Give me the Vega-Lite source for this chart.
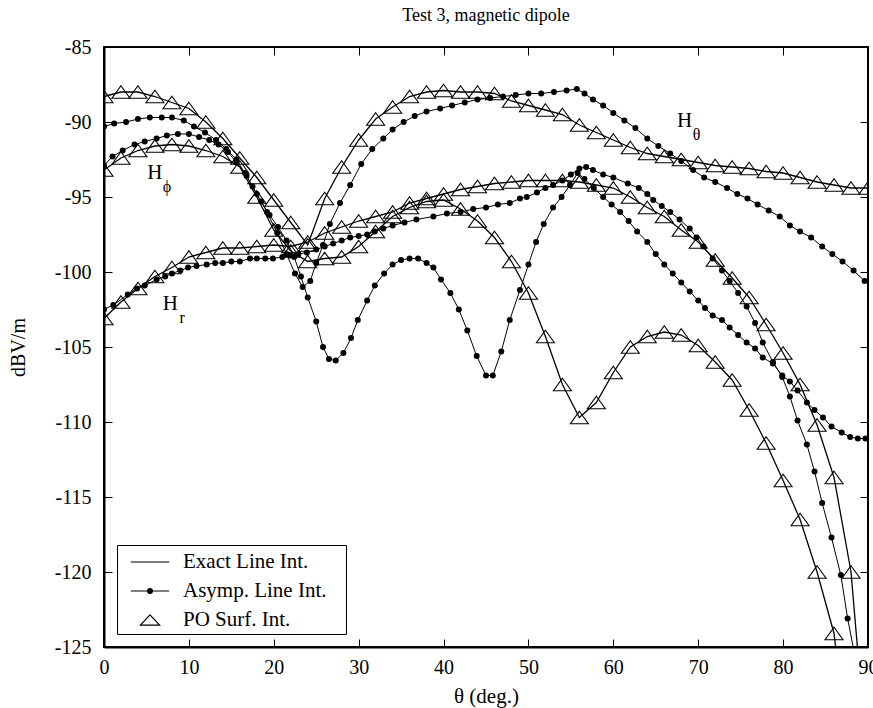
{
"$schema": "https://vega.github.io/schema/vega-lite/v6.json",
"width": 764, "height": 600,
"autosize": {"type": "none"},
"padding": {"left": 104, "top": 47, "right": 5, "bottom": 61},
"background": "white",
"title": {"text": "Test 3, magnetic dipole", "font": "Liberation Serif", "fontSize": 18, "fontWeight": "normal", "color": "black", "offset": 12},
"config": {
 "view": {"stroke": "black", "strokeWidth": 2},
 "axis": {"grid": false, "labelFont": "Liberation Serif", "labelFontSize": 20, "labelColor": "black", "titleFont": "Liberation Serif", "titleFontWeight": "normal", "titleColor": "black", "titleFontSize": 20, "domainColor": "black", "domainWidth": 2, "tickColor": "black", "tickWidth": 1, "tickSize": -8},
 "legend": {"labelFont": "Liberation Serif", "labelFontSize": 21, "labelColor": "black"}
},
"datasets": {
"curves": [
{"f":"Ht","m":"PO Surf. Int.","t":0,"v":-88.3},{"f":"Ht","m":"PO Surf. Int.","t":2,"v":-88.0},{"f":"Ht","m":"PO Surf. Int.","t":4,"v":-88.0},{"f":"Ht","m":"PO Surf. Int.","t":6,"v":-88.3},{"f":"Ht","m":"PO Surf. Int.","t":8,"v":-88.7},{"f":"Ht","m":"PO Surf. Int.","t":10,"v":-89.1},{"f":"Ht","m":"PO Surf. Int.","t":12,"v":-90.0},{"f":"Ht","m":"PO Surf. Int.","t":14,"v":-91.1},{"f":"Ht","m":"PO Surf. Int.","t":16,"v":-92.4},{"f":"Ht","m":"PO Surf. Int.","t":18,"v":-93.7},{"f":"Ht","m":"PO Surf. Int.","t":20,"v":-95.2},{"f":"Ht","m":"PO Surf. Int.","t":22,"v":-96.7},{"f":"Ht","m":"PO Surf. Int.","t":24,"v":-98.2},{"f":"Ht","m":"PO Surf. Int.","t":26,"v":-95.1},{"f":"Ht","m":"PO Surf. Int.","t":28,"v":-93.0},{"f":"Ht","m":"PO Surf. Int.","t":30,"v":-91.2},{"f":"Ht","m":"PO Surf. Int.","t":32,"v":-89.8},{"f":"Ht","m":"PO Surf. Int.","t":34,"v":-89.0},{"f":"Ht","m":"PO Surf. Int.","t":36,"v":-88.3},{"f":"Ht","m":"PO Surf. Int.","t":38,"v":-88.0},{"f":"Ht","m":"PO Surf. Int.","t":40,"v":-87.9},{"f":"Ht","m":"PO Surf. Int.","t":42,"v":-88.0},{"f":"Ht","m":"PO Surf. Int.","t":44,"v":-88.0},{"f":"Ht","m":"PO Surf. Int.","t":46,"v":-88.1},{"f":"Ht","m":"PO Surf. Int.","t":48,"v":-88.6},{"f":"Ht","m":"PO Surf. Int.","t":50,"v":-88.9},{"f":"Ht","m":"PO Surf. Int.","t":52,"v":-89.2},{"f":"Ht","m":"PO Surf. Int.","t":54,"v":-89.5},{"f":"Ht","m":"PO Surf. Int.","t":56,"v":-90.2},{"f":"Ht","m":"PO Surf. Int.","t":58,"v":-90.7},{"f":"Ht","m":"PO Surf. Int.","t":60,"v":-91.2},{"f":"Ht","m":"PO Surf. Int.","t":62,"v":-91.7},{"f":"Ht","m":"PO Surf. Int.","t":64,"v":-92.1},{"f":"Ht","m":"PO Surf. Int.","t":66,"v":-92.3},{"f":"Ht","m":"PO Surf. Int.","t":68,"v":-92.5},{"f":"Ht","m":"PO Surf. Int.","t":70,"v":-92.7},{"f":"Ht","m":"PO Surf. Int.","t":72,"v":-92.9},{"f":"Ht","m":"PO Surf. Int.","t":74,"v":-93.0},{"f":"Ht","m":"PO Surf. Int.","t":76,"v":-93.1},{"f":"Ht","m":"PO Surf. Int.","t":78,"v":-93.3},{"f":"Ht","m":"PO Surf. Int.","t":80,"v":-93.4},{"f":"Ht","m":"PO Surf. Int.","t":82,"v":-93.7},{"f":"Ht","m":"PO Surf. Int.","t":84,"v":-94.0},{"f":"Ht","m":"PO Surf. Int.","t":86,"v":-94.2},{"f":"Ht","m":"PO Surf. Int.","t":88,"v":-94.4},{"f":"Ht","m":"PO Surf. Int.","t":90,"v":-94.4},
{"f":"Hp","m":"PO Surf. Int.","t":0,"v":-93.2},{"f":"Hp","m":"PO Surf. Int.","t":2,"v":-92.4},{"f":"Hp","m":"PO Surf. Int.","t":4,"v":-91.9},{"f":"Hp","m":"PO Surf. Int.","t":6,"v":-91.6},{"f":"Hp","m":"PO Surf. Int.","t":8,"v":-91.5},{"f":"Hp","m":"PO Surf. Int.","t":10,"v":-91.6},{"f":"Hp","m":"PO Surf. Int.","t":12,"v":-91.9},{"f":"Hp","m":"PO Surf. Int.","t":14,"v":-92.3},{"f":"Hp","m":"PO Surf. Int.","t":16,"v":-93.0},{"f":"Hp","m":"PO Surf. Int.","t":18,"v":-95.0},{"f":"Hp","m":"PO Surf. Int.","t":20,"v":-97.2},{"f":"Hp","m":"PO Surf. Int.","t":22,"v":-98.6},{"f":"Hp","m":"PO Surf. Int.","t":24,"v":-99.3},{"f":"Hp","m":"PO Surf. Int.","t":26,"v":-99.1},{"f":"Hp","m":"PO Surf. Int.","t":28,"v":-99.0},{"f":"Hp","m":"PO Surf. Int.","t":30,"v":-98.3},{"f":"Hp","m":"PO Surf. Int.","t":32,"v":-97.3},{"f":"Hp","m":"PO Surf. Int.","t":34,"v":-96.3},{"f":"Hp","m":"PO Surf. Int.","t":36,"v":-95.7},{"f":"Hp","m":"PO Surf. Int.","t":38,"v":-95.3},{"f":"Hp","m":"PO Surf. Int.","t":40,"v":-95.2},{"f":"Hp","m":"PO Surf. Int.","t":42,"v":-95.8},{"f":"Hp","m":"PO Surf. Int.","t":44,"v":-96.6},{"f":"Hp","m":"PO Surf. Int.","t":46,"v":-97.7},{"f":"Hp","m":"PO Surf. Int.","t":48,"v":-99.3},{"f":"Hp","m":"PO Surf. Int.","t":50,"v":-101.4},{"f":"Hp","m":"PO Surf. Int.","t":52,"v":-104.3},{"f":"Hp","m":"PO Surf. Int.","t":54,"v":-107.5},{"f":"Hp","m":"PO Surf. Int.","t":56,"v":-109.7},{"f":"Hp","m":"PO Surf. Int.","t":58,"v":-108.7},{"f":"Hp","m":"PO Surf. Int.","t":60,"v":-106.7},{"f":"Hp","m":"PO Surf. Int.","t":62,"v":-105.0},{"f":"Hp","m":"PO Surf. Int.","t":64,"v":-104.3},{"f":"Hp","m":"PO Surf. Int.","t":66,"v":-104.0},{"f":"Hp","m":"PO Surf. Int.","t":68,"v":-104.2},{"f":"Hp","m":"PO Surf. Int.","t":70,"v":-104.9},{"f":"Hp","m":"PO Surf. Int.","t":72,"v":-106.0},{"f":"Hp","m":"PO Surf. Int.","t":74,"v":-107.2},{"f":"Hp","m":"PO Surf. Int.","t":76,"v":-109.2},{"f":"Hp","m":"PO Surf. Int.","t":78,"v":-111.4},{"f":"Hp","m":"PO Surf. Int.","t":80,"v":-113.9},{"f":"Hp","m":"PO Surf. Int.","t":82,"v":-116.5},{"f":"Hp","m":"PO Surf. Int.","t":84,"v":-120.0},{"f":"Hp","m":"PO Surf. Int.","t":86,"v":-124.1},
{"f":"Hr","m":"PO Surf. Int.","t":0,"v":-103.1},{"f":"Hr","m":"PO Surf. Int.","t":2,"v":-102.0},{"f":"Hr","m":"PO Surf. Int.","t":4,"v":-101.1},{"f":"Hr","m":"PO Surf. Int.","t":6,"v":-100.3},{"f":"Hr","m":"PO Surf. Int.","t":8,"v":-99.7},{"f":"Hr","m":"PO Surf. Int.","t":10,"v":-99.0},{"f":"Hr","m":"PO Surf. Int.","t":12,"v":-98.7},{"f":"Hr","m":"PO Surf. Int.","t":14,"v":-98.4},{"f":"Hr","m":"PO Surf. Int.","t":16,"v":-98.4},{"f":"Hr","m":"PO Surf. Int.","t":18,"v":-98.3},{"f":"Hr","m":"PO Surf. Int.","t":20,"v":-98.2},{"f":"Hr","m":"PO Surf. Int.","t":22,"v":-98.3},{"f":"Hr","m":"PO Surf. Int.","t":24,"v":-98.0},{"f":"Hr","m":"PO Surf. Int.","t":26,"v":-97.4},{"f":"Hr","m":"PO Surf. Int.","t":28,"v":-97.0},{"f":"Hr","m":"PO Surf. Int.","t":30,"v":-96.6},{"f":"Hr","m":"PO Surf. Int.","t":32,"v":-96.3},{"f":"Hr","m":"PO Surf. Int.","t":34,"v":-96.0},{"f":"Hr","m":"PO Surf. Int.","t":36,"v":-95.4},{"f":"Hr","m":"PO Surf. Int.","t":38,"v":-95.1},{"f":"Hr","m":"PO Surf. Int.","t":40,"v":-94.8},{"f":"Hr","m":"PO Surf. Int.","t":42,"v":-94.5},{"f":"Hr","m":"PO Surf. Int.","t":44,"v":-94.3},{"f":"Hr","m":"PO Surf. Int.","t":46,"v":-94.1},{"f":"Hr","m":"PO Surf. Int.","t":48,"v":-94.0},{"f":"Hr","m":"PO Surf. Int.","t":50,"v":-93.9},{"f":"Hr","m":"PO Surf. Int.","t":52,"v":-93.9},{"f":"Hr","m":"PO Surf. Int.","t":54,"v":-93.9},{"f":"Hr","m":"PO Surf. Int.","t":56,"v":-94.0},{"f":"Hr","m":"PO Surf. Int.","t":58,"v":-94.2},{"f":"Hr","m":"PO Surf. Int.","t":60,"v":-94.4},{"f":"Hr","m":"PO Surf. Int.","t":62,"v":-95.0},{"f":"Hr","m":"PO Surf. Int.","t":64,"v":-95.7},{"f":"Hr","m":"PO Surf. Int.","t":66,"v":-96.3},{"f":"Hr","m":"PO Surf. Int.","t":68,"v":-97.2},{"f":"Hr","m":"PO Surf. Int.","t":70,"v":-98.0},{"f":"Hr","m":"PO Surf. Int.","t":72,"v":-99.2},{"f":"Hr","m":"PO Surf. Int.","t":74,"v":-100.4},{"f":"Hr","m":"PO Surf. Int.","t":76,"v":-101.7},{"f":"Hr","m":"PO Surf. Int.","t":78,"v":-103.5},{"f":"Hr","m":"PO Surf. Int.","t":80,"v":-105.4},{"f":"Hr","m":"PO Surf. Int.","t":82,"v":-107.5},{"f":"Hr","m":"PO Surf. Int.","t":84,"v":-110.2},{"f":"Hr","m":"PO Surf. Int.","t":86,"v":-113.7},{"f":"Hr","m":"PO Surf. Int.","t":88,"v":-120.0},
{"f":"Ht","m":"Exact Line Int.","t":0,"v":-88.3},{"f":"Ht","m":"Exact Line Int.","t":2,"v":-88.0},{"f":"Ht","m":"Exact Line Int.","t":4,"v":-88.0},{"f":"Ht","m":"Exact Line Int.","t":6,"v":-88.3},{"f":"Ht","m":"Exact Line Int.","t":8,"v":-88.7},{"f":"Ht","m":"Exact Line Int.","t":10,"v":-89.1},{"f":"Ht","m":"Exact Line Int.","t":12,"v":-90.0},{"f":"Ht","m":"Exact Line Int.","t":14,"v":-91.1},{"f":"Ht","m":"Exact Line Int.","t":16,"v":-92.4},{"f":"Ht","m":"Exact Line Int.","t":18,"v":-93.7},{"f":"Ht","m":"Exact Line Int.","t":20,"v":-95.2},{"f":"Ht","m":"Exact Line Int.","t":22,"v":-96.7},{"f":"Ht","m":"Exact Line Int.","t":24,"v":-98.2},{"f":"Ht","m":"Exact Line Int.","t":26,"v":-95.1},{"f":"Ht","m":"Exact Line Int.","t":28,"v":-93.0},{"f":"Ht","m":"Exact Line Int.","t":30,"v":-91.2},{"f":"Ht","m":"Exact Line Int.","t":32,"v":-89.8},{"f":"Ht","m":"Exact Line Int.","t":34,"v":-89.0},{"f":"Ht","m":"Exact Line Int.","t":36,"v":-88.3},{"f":"Ht","m":"Exact Line Int.","t":38,"v":-88.0},{"f":"Ht","m":"Exact Line Int.","t":40,"v":-87.9},{"f":"Ht","m":"Exact Line Int.","t":42,"v":-88.0},{"f":"Ht","m":"Exact Line Int.","t":44,"v":-88.0},{"f":"Ht","m":"Exact Line Int.","t":46,"v":-88.1},{"f":"Ht","m":"Exact Line Int.","t":48,"v":-88.6},{"f":"Ht","m":"Exact Line Int.","t":50,"v":-88.9},{"f":"Ht","m":"Exact Line Int.","t":52,"v":-89.2},{"f":"Ht","m":"Exact Line Int.","t":54,"v":-89.5},{"f":"Ht","m":"Exact Line Int.","t":56,"v":-90.2},{"f":"Ht","m":"Exact Line Int.","t":58,"v":-90.7},{"f":"Ht","m":"Exact Line Int.","t":60,"v":-91.2},{"f":"Ht","m":"Exact Line Int.","t":62,"v":-91.7},{"f":"Ht","m":"Exact Line Int.","t":64,"v":-92.1},{"f":"Ht","m":"Exact Line Int.","t":66,"v":-92.3},{"f":"Ht","m":"Exact Line Int.","t":68,"v":-92.5},{"f":"Ht","m":"Exact Line Int.","t":70,"v":-92.7},{"f":"Ht","m":"Exact Line Int.","t":72,"v":-92.9},{"f":"Ht","m":"Exact Line Int.","t":74,"v":-93.0},{"f":"Ht","m":"Exact Line Int.","t":76,"v":-93.1},{"f":"Ht","m":"Exact Line Int.","t":78,"v":-93.3},{"f":"Ht","m":"Exact Line Int.","t":80,"v":-93.4},{"f":"Ht","m":"Exact Line Int.","t":82,"v":-93.7},{"f":"Ht","m":"Exact Line Int.","t":84,"v":-94.0},{"f":"Ht","m":"Exact Line Int.","t":86,"v":-94.2},{"f":"Ht","m":"Exact Line Int.","t":88,"v":-94.4},{"f":"Ht","m":"Exact Line Int.","t":90,"v":-94.4},
{"f":"Hp","m":"Exact Line Int.","t":0,"v":-93.2},{"f":"Hp","m":"Exact Line Int.","t":2,"v":-92.4},{"f":"Hp","m":"Exact Line Int.","t":4,"v":-91.9},{"f":"Hp","m":"Exact Line Int.","t":6,"v":-91.6},{"f":"Hp","m":"Exact Line Int.","t":8,"v":-91.5},{"f":"Hp","m":"Exact Line Int.","t":10,"v":-91.6},{"f":"Hp","m":"Exact Line Int.","t":12,"v":-91.9},{"f":"Hp","m":"Exact Line Int.","t":14,"v":-92.3},{"f":"Hp","m":"Exact Line Int.","t":16,"v":-93.0},{"f":"Hp","m":"Exact Line Int.","t":18,"v":-95.0},{"f":"Hp","m":"Exact Line Int.","t":20,"v":-97.2},{"f":"Hp","m":"Exact Line Int.","t":22,"v":-98.6},{"f":"Hp","m":"Exact Line Int.","t":24,"v":-99.3},{"f":"Hp","m":"Exact Line Int.","t":26,"v":-99.1},{"f":"Hp","m":"Exact Line Int.","t":28,"v":-99.0},{"f":"Hp","m":"Exact Line Int.","t":30,"v":-98.3},{"f":"Hp","m":"Exact Line Int.","t":32,"v":-97.3},{"f":"Hp","m":"Exact Line Int.","t":34,"v":-96.3},{"f":"Hp","m":"Exact Line Int.","t":36,"v":-95.7},{"f":"Hp","m":"Exact Line Int.","t":38,"v":-95.3},{"f":"Hp","m":"Exact Line Int.","t":40,"v":-95.2},{"f":"Hp","m":"Exact Line Int.","t":42,"v":-95.8},{"f":"Hp","m":"Exact Line Int.","t":44,"v":-96.6},{"f":"Hp","m":"Exact Line Int.","t":46,"v":-97.7},{"f":"Hp","m":"Exact Line Int.","t":48,"v":-99.3},{"f":"Hp","m":"Exact Line Int.","t":50,"v":-101.4},{"f":"Hp","m":"Exact Line Int.","t":52,"v":-104.3},{"f":"Hp","m":"Exact Line Int.","t":54,"v":-107.5},{"f":"Hp","m":"Exact Line Int.","t":56,"v":-109.7},{"f":"Hp","m":"Exact Line Int.","t":58,"v":-108.7},{"f":"Hp","m":"Exact Line Int.","t":60,"v":-106.7},{"f":"Hp","m":"Exact Line Int.","t":62,"v":-105.0},{"f":"Hp","m":"Exact Line Int.","t":64,"v":-104.3},{"f":"Hp","m":"Exact Line Int.","t":66,"v":-104.0},{"f":"Hp","m":"Exact Line Int.","t":68,"v":-104.2},{"f":"Hp","m":"Exact Line Int.","t":70,"v":-104.9},{"f":"Hp","m":"Exact Line Int.","t":72,"v":-106.0},{"f":"Hp","m":"Exact Line Int.","t":74,"v":-107.2},{"f":"Hp","m":"Exact Line Int.","t":76,"v":-109.2},{"f":"Hp","m":"Exact Line Int.","t":78,"v":-111.4},{"f":"Hp","m":"Exact Line Int.","t":80,"v":-113.9},{"f":"Hp","m":"Exact Line Int.","t":82,"v":-116.5},{"f":"Hp","m":"Exact Line Int.","t":84,"v":-120.0},{"f":"Hp","m":"Exact Line Int.","t":86,"v":-124.1},{"f":"Hp","m":"Exact Line Int.","t":86.4,"v":-126.0},
{"f":"Hr","m":"Exact Line Int.","t":0,"v":-103.1},{"f":"Hr","m":"Exact Line Int.","t":2,"v":-102.0},{"f":"Hr","m":"Exact Line Int.","t":4,"v":-101.1},{"f":"Hr","m":"Exact Line Int.","t":6,"v":-100.3},{"f":"Hr","m":"Exact Line Int.","t":8,"v":-99.7},{"f":"Hr","m":"Exact Line Int.","t":10,"v":-99.0},{"f":"Hr","m":"Exact Line Int.","t":12,"v":-98.7},{"f":"Hr","m":"Exact Line Int.","t":14,"v":-98.4},{"f":"Hr","m":"Exact Line Int.","t":16,"v":-98.4},{"f":"Hr","m":"Exact Line Int.","t":18,"v":-98.3},{"f":"Hr","m":"Exact Line Int.","t":20,"v":-98.2},{"f":"Hr","m":"Exact Line Int.","t":22,"v":-98.3},{"f":"Hr","m":"Exact Line Int.","t":24,"v":-98.0},{"f":"Hr","m":"Exact Line Int.","t":26,"v":-97.4},{"f":"Hr","m":"Exact Line Int.","t":28,"v":-97.0},{"f":"Hr","m":"Exact Line Int.","t":30,"v":-96.6},{"f":"Hr","m":"Exact Line Int.","t":32,"v":-96.3},{"f":"Hr","m":"Exact Line Int.","t":34,"v":-96.0},{"f":"Hr","m":"Exact Line Int.","t":36,"v":-95.4},{"f":"Hr","m":"Exact Line Int.","t":38,"v":-95.1},{"f":"Hr","m":"Exact Line Int.","t":40,"v":-94.8},{"f":"Hr","m":"Exact Line Int.","t":42,"v":-94.5},{"f":"Hr","m":"Exact Line Int.","t":44,"v":-94.3},{"f":"Hr","m":"Exact Line Int.","t":46,"v":-94.1},{"f":"Hr","m":"Exact Line Int.","t":48,"v":-94.0},{"f":"Hr","m":"Exact Line Int.","t":50,"v":-93.9},{"f":"Hr","m":"Exact Line Int.","t":52,"v":-93.9},{"f":"Hr","m":"Exact Line Int.","t":54,"v":-93.9},{"f":"Hr","m":"Exact Line Int.","t":56,"v":-94.0},{"f":"Hr","m":"Exact Line Int.","t":58,"v":-94.2},{"f":"Hr","m":"Exact Line Int.","t":60,"v":-94.4},{"f":"Hr","m":"Exact Line Int.","t":62,"v":-95.0},{"f":"Hr","m":"Exact Line Int.","t":64,"v":-95.7},{"f":"Hr","m":"Exact Line Int.","t":66,"v":-96.3},{"f":"Hr","m":"Exact Line Int.","t":68,"v":-97.2},{"f":"Hr","m":"Exact Line Int.","t":70,"v":-98.0},{"f":"Hr","m":"Exact Line Int.","t":72,"v":-99.2},{"f":"Hr","m":"Exact Line Int.","t":74,"v":-100.4},{"f":"Hr","m":"Exact Line Int.","t":76,"v":-101.7},{"f":"Hr","m":"Exact Line Int.","t":78,"v":-103.5},{"f":"Hr","m":"Exact Line Int.","t":80,"v":-105.4},{"f":"Hr","m":"Exact Line Int.","t":82,"v":-107.5},{"f":"Hr","m":"Exact Line Int.","t":84,"v":-110.2},{"f":"Hr","m":"Exact Line Int.","t":86,"v":-113.7},{"f":"Hr","m":"Exact Line Int.","t":88,"v":-120.0},{"f":"Hr","m":"Exact Line Int.","t":88.9,"v":-126.0},
{"f":"Ht","m":"Asymp. Line Int.","t":0,"v":-90.3},{"f":"Ht","m":"Asymp. Line Int.","t":1.2,"v":-90.1},{"f":"Ht","m":"Asymp. Line Int.","t":2.6,"v":-90.0},{"f":"Ht","m":"Asymp. Line Int.","t":4,"v":-89.8},{"f":"Ht","m":"Asymp. Line Int.","t":5.4,"v":-89.7},{"f":"Ht","m":"Asymp. Line Int.","t":6.8,"v":-89.7},{"f":"Ht","m":"Asymp. Line Int.","t":8,"v":-89.7},{"f":"Ht","m":"Asymp. Line Int.","t":9.4,"v":-89.9},{"f":"Ht","m":"Asymp. Line Int.","t":10.6,"v":-90.3},{"f":"Ht","m":"Asymp. Line Int.","t":11.9,"v":-90.7},{"f":"Ht","m":"Asymp. Line Int.","t":13.2,"v":-91.2},{"f":"Ht","m":"Asymp. Line Int.","t":14.4,"v":-91.8},{"f":"Ht","m":"Asymp. Line Int.","t":15.6,"v":-92.5},{"f":"Ht","m":"Asymp. Line Int.","t":16.8,"v":-93.6},{"f":"Ht","m":"Asymp. Line Int.","t":18,"v":-94.8},{"f":"Ht","m":"Asymp. Line Int.","t":19.2,"v":-96.0},{"f":"Ht","m":"Asymp. Line Int.","t":20.4,"v":-97.4},{"f":"Ht","m":"Asymp. Line Int.","t":21.5,"v":-98.8},{"f":"Ht","m":"Asymp. Line Int.","t":22.5,"v":-100.1},{"f":"Ht","m":"Asymp. Line Int.","t":23.4,"v":-101.0},{"f":"Ht","m":"Asymp. Line Int.","t":24.3,"v":-100.6},{"f":"Ht","m":"Asymp. Line Int.","t":25.0,"v":-99.4},{"f":"Ht","m":"Asymp. Line Int.","t":25.8,"v":-98.2},{"f":"Ht","m":"Asymp. Line Int.","t":26.6,"v":-96.8},{"f":"Ht","m":"Asymp. Line Int.","t":27.8,"v":-95.4},{"f":"Ht","m":"Asymp. Line Int.","t":29,"v":-94.2},{"f":"Ht","m":"Asymp. Line Int.","t":30.3,"v":-92.8},{"f":"Ht","m":"Asymp. Line Int.","t":31.6,"v":-91.8},{"f":"Ht","m":"Asymp. Line Int.","t":32.9,"v":-91.1},{"f":"Ht","m":"Asymp. Line Int.","t":34,"v":-90.5},{"f":"Ht","m":"Asymp. Line Int.","t":35.3,"v":-90.0},{"f":"Ht","m":"Asymp. Line Int.","t":36.6,"v":-89.6},{"f":"Ht","m":"Asymp. Line Int.","t":38,"v":-89.3},{"f":"Ht","m":"Asymp. Line Int.","t":39.6,"v":-89.1},{"f":"Ht","m":"Asymp. Line Int.","t":41,"v":-88.9},{"f":"Ht","m":"Asymp. Line Int.","t":42.5,"v":-88.7},{"f":"Ht","m":"Asymp. Line Int.","t":44,"v":-88.5},{"f":"Ht","m":"Asymp. Line Int.","t":45.5,"v":-88.4},{"f":"Ht","m":"Asymp. Line Int.","t":47,"v":-88.3},{"f":"Ht","m":"Asymp. Line Int.","t":48.5,"v":-88.2},{"f":"Ht","m":"Asymp. Line Int.","t":50,"v":-88.1},{"f":"Ht","m":"Asymp. Line Int.","t":51.5,"v":-88.1},{"f":"Ht","m":"Asymp. Line Int.","t":53,"v":-88.0},{"f":"Ht","m":"Asymp. Line Int.","t":54.5,"v":-87.9},{"f":"Ht","m":"Asymp. Line Int.","t":55.7,"v":-87.8},{"f":"Ht","m":"Asymp. Line Int.","t":56.6,"v":-88.1},{"f":"Ht","m":"Asymp. Line Int.","t":57.6,"v":-88.5},{"f":"Ht","m":"Asymp. Line Int.","t":58.8,"v":-88.9},{"f":"Ht","m":"Asymp. Line Int.","t":60,"v":-89.4},{"f":"Ht","m":"Asymp. Line Int.","t":61.3,"v":-89.9},{"f":"Ht","m":"Asymp. Line Int.","t":62.6,"v":-90.4},{"f":"Ht","m":"Asymp. Line Int.","t":64,"v":-91.1},{"f":"Ht","m":"Asymp. Line Int.","t":65.3,"v":-91.6},{"f":"Ht","m":"Asymp. Line Int.","t":66.7,"v":-92.1},{"f":"Ht","m":"Asymp. Line Int.","t":68,"v":-92.6},{"f":"Ht","m":"Asymp. Line Int.","t":69.4,"v":-93.2},{"f":"Ht","m":"Asymp. Line Int.","t":70.7,"v":-93.7},{"f":"Ht","m":"Asymp. Line Int.","t":72,"v":-94.0},{"f":"Ht","m":"Asymp. Line Int.","t":73.4,"v":-94.4},{"f":"Ht","m":"Asymp. Line Int.","t":74.6,"v":-94.8},{"f":"Ht","m":"Asymp. Line Int.","t":75.8,"v":-95.1},{"f":"Ht","m":"Asymp. Line Int.","t":77,"v":-95.5},{"f":"Ht","m":"Asymp. Line Int.","t":78.3,"v":-95.9},{"f":"Ht","m":"Asymp. Line Int.","t":79.6,"v":-96.3},{"f":"Ht","m":"Asymp. Line Int.","t":80.8,"v":-96.9},{"f":"Ht","m":"Asymp. Line Int.","t":82,"v":-97.3},{"f":"Ht","m":"Asymp. Line Int.","t":83.3,"v":-97.7},{"f":"Ht","m":"Asymp. Line Int.","t":84.6,"v":-98.3},{"f":"Ht","m":"Asymp. Line Int.","t":85.8,"v":-98.8},{"f":"Ht","m":"Asymp. Line Int.","t":87,"v":-99.3},{"f":"Ht","m":"Asymp. Line Int.","t":88.3,"v":-99.9},{"f":"Ht","m":"Asymp. Line Int.","t":89.6,"v":-100.6},
{"f":"Hp","m":"Asymp. Line Int.","t":0,"v":-92.9},{"f":"Hp","m":"Asymp. Line Int.","t":1,"v":-92.3},{"f":"Hp","m":"Asymp. Line Int.","t":2.2,"v":-91.9},{"f":"Hp","m":"Asymp. Line Int.","t":3.6,"v":-91.5},{"f":"Hp","m":"Asymp. Line Int.","t":4.8,"v":-91.3},{"f":"Hp","m":"Asymp. Line Int.","t":6.2,"v":-91.1},{"f":"Hp","m":"Asymp. Line Int.","t":7.4,"v":-90.9},{"f":"Hp","m":"Asymp. Line Int.","t":8.7,"v":-90.8},{"f":"Hp","m":"Asymp. Line Int.","t":10,"v":-90.8},{"f":"Hp","m":"Asymp. Line Int.","t":11.2,"v":-91.0},{"f":"Hp","m":"Asymp. Line Int.","t":12.4,"v":-91.2},{"f":"Hp","m":"Asymp. Line Int.","t":13.5,"v":-91.5},{"f":"Hp","m":"Asymp. Line Int.","t":14.6,"v":-92.0},{"f":"Hp","m":"Asymp. Line Int.","t":15.6,"v":-92.7},{"f":"Hp","m":"Asymp. Line Int.","t":16.6,"v":-93.4},{"f":"Hp","m":"Asymp. Line Int.","t":17.5,"v":-94.3},{"f":"Hp","m":"Asymp. Line Int.","t":18.5,"v":-95.3},{"f":"Hp","m":"Asymp. Line Int.","t":19.5,"v":-96.2},{"f":"Hp","m":"Asymp. Line Int.","t":20.5,"v":-97.0},{"f":"Hp","m":"Asymp. Line Int.","t":21.5,"v":-97.9},{"f":"Hp","m":"Asymp. Line Int.","t":22.4,"v":-99.0},{"f":"Hp","m":"Asymp. Line Int.","t":23.2,"v":-100.3},{"f":"Hp","m":"Asymp. Line Int.","t":24.0,"v":-101.7},{"f":"Hp","m":"Asymp. Line Int.","t":25.0,"v":-103.3},{"f":"Hp","m":"Asymp. Line Int.","t":25.8,"v":-105.0},{"f":"Hp","m":"Asymp. Line Int.","t":26.5,"v":-105.8},{"f":"Hp","m":"Asymp. Line Int.","t":27.3,"v":-105.9},{"f":"Hp","m":"Asymp. Line Int.","t":28.2,"v":-105.4},{"f":"Hp","m":"Asymp. Line Int.","t":29.1,"v":-104.4},{"f":"Hp","m":"Asymp. Line Int.","t":29.9,"v":-103.2},{"f":"Hp","m":"Asymp. Line Int.","t":31,"v":-101.9},{"f":"Hp","m":"Asymp. Line Int.","t":31.9,"v":-100.9},{"f":"Hp","m":"Asymp. Line Int.","t":33,"v":-100.1},{"f":"Hp","m":"Asymp. Line Int.","t":34,"v":-99.5},{"f":"Hp","m":"Asymp. Line Int.","t":35,"v":-99.2},{"f":"Hp","m":"Asymp. Line Int.","t":36,"v":-99.1},{"f":"Hp","m":"Asymp. Line Int.","t":37,"v":-99.1},{"f":"Hp","m":"Asymp. Line Int.","t":38,"v":-99.4},{"f":"Hp","m":"Asymp. Line Int.","t":38.8,"v":-99.7},{"f":"Hp","m":"Asymp. Line Int.","t":39.7,"v":-100.5},{"f":"Hp","m":"Asymp. Line Int.","t":40.8,"v":-101.4},{"f":"Hp","m":"Asymp. Line Int.","t":41.8,"v":-102.5},{"f":"Hp","m":"Asymp. Line Int.","t":42.8,"v":-103.9},{"f":"Hp","m":"Asymp. Line Int.","t":43.9,"v":-105.6},{"f":"Hp","m":"Asymp. Line Int.","t":45,"v":-106.9},{"f":"Hp","m":"Asymp. Line Int.","t":45.8,"v":-106.9},{"f":"Hp","m":"Asymp. Line Int.","t":46.8,"v":-105.3},{"f":"Hp","m":"Asymp. Line Int.","t":47.8,"v":-103.2},{"f":"Hp","m":"Asymp. Line Int.","t":49,"v":-101.2},{"f":"Hp","m":"Asymp. Line Int.","t":50,"v":-99.5},{"f":"Hp","m":"Asymp. Line Int.","t":50.9,"v":-98.0},{"f":"Hp","m":"Asymp. Line Int.","t":51.8,"v":-96.8},{"f":"Hp","m":"Asymp. Line Int.","t":52.9,"v":-95.7},{"f":"Hp","m":"Asymp. Line Int.","t":53.9,"v":-95.0},{"f":"Hp","m":"Asymp. Line Int.","t":54.9,"v":-94.2},{"f":"Hp","m":"Asymp. Line Int.","t":55.8,"v":-93.4},{"f":"Hp","m":"Asymp. Line Int.","t":56.6,"v":-93.8},{"f":"Hp","m":"Asymp. Line Int.","t":57.7,"v":-94.4},{"f":"Hp","m":"Asymp. Line Int.","t":58.8,"v":-95.0},{"f":"Hp","m":"Asymp. Line Int.","t":59.8,"v":-95.5},{"f":"Hp","m":"Asymp. Line Int.","t":60.8,"v":-96.0},{"f":"Hp","m":"Asymp. Line Int.","t":61.8,"v":-96.6},{"f":"Hp","m":"Asymp. Line Int.","t":62.8,"v":-97.3},{"f":"Hp","m":"Asymp. Line Int.","t":64,"v":-98.0},{"f":"Hp","m":"Asymp. Line Int.","t":65,"v":-98.8},{"f":"Hp","m":"Asymp. Line Int.","t":66,"v":-99.5},{"f":"Hp","m":"Asymp. Line Int.","t":67,"v":-100.1},{"f":"Hp","m":"Asymp. Line Int.","t":68,"v":-100.7},{"f":"Hp","m":"Asymp. Line Int.","t":69,"v":-101.3},{"f":"Hp","m":"Asymp. Line Int.","t":70,"v":-101.9},{"f":"Hp","m":"Asymp. Line Int.","t":70.8,"v":-102.4},{"f":"Hp","m":"Asymp. Line Int.","t":71.7,"v":-102.9},{"f":"Hp","m":"Asymp. Line Int.","t":72.8,"v":-103.2},{"f":"Hp","m":"Asymp. Line Int.","t":73.7,"v":-103.7},{"f":"Hp","m":"Asymp. Line Int.","t":74.7,"v":-104.2},{"f":"Hp","m":"Asymp. Line Int.","t":75.7,"v":-104.7},{"f":"Hp","m":"Asymp. Line Int.","t":76.7,"v":-105.1},{"f":"Hp","m":"Asymp. Line Int.","t":77.6,"v":-105.7},{"f":"Hp","m":"Asymp. Line Int.","t":78.8,"v":-106.1},{"f":"Hp","m":"Asymp. Line Int.","t":79.9,"v":-106.9},{"f":"Hp","m":"Asymp. Line Int.","t":80.8,"v":-107.3},{"f":"Hp","m":"Asymp. Line Int.","t":81.7,"v":-107.9},{"f":"Hp","m":"Asymp. Line Int.","t":82.8,"v":-108.7},{"f":"Hp","m":"Asymp. Line Int.","t":83.7,"v":-109.2},{"f":"Hp","m":"Asymp. Line Int.","t":84.7,"v":-109.7},{"f":"Hp","m":"Asymp. Line Int.","t":85.7,"v":-110.3},{"f":"Hp","m":"Asymp. Line Int.","t":86.9,"v":-110.7},{"f":"Hp","m":"Asymp. Line Int.","t":87.9,"v":-111.0},{"f":"Hp","m":"Asymp. Line Int.","t":88.8,"v":-111.1},{"f":"Hp","m":"Asymp. Line Int.","t":89.7,"v":-111.1},
{"f":"Hr","m":"Asymp. Line Int.","t":0,"v":-102.5},{"f":"Hr","m":"Asymp. Line Int.","t":1.1,"v":-102.2},{"f":"Hr","m":"Asymp. Line Int.","t":2.8,"v":-101.5},{"f":"Hr","m":"Asymp. Line Int.","t":3.9,"v":-101.1},{"f":"Hr","m":"Asymp. Line Int.","t":4.8,"v":-100.9},{"f":"Hr","m":"Asymp. Line Int.","t":6.2,"v":-100.5},{"f":"Hr","m":"Asymp. Line Int.","t":7.2,"v":-100.3},{"f":"Hr","m":"Asymp. Line Int.","t":8,"v":-100.1},{"f":"Hr","m":"Asymp. Line Int.","t":9,"v":-99.9},{"f":"Hr","m":"Asymp. Line Int.","t":9.9,"v":-99.7},{"f":"Hr","m":"Asymp. Line Int.","t":10.9,"v":-99.6},{"f":"Hr","m":"Asymp. Line Int.","t":12.1,"v":-99.5},{"f":"Hr","m":"Asymp. Line Int.","t":13.1,"v":-99.4},{"f":"Hr","m":"Asymp. Line Int.","t":14,"v":-99.4},{"f":"Hr","m":"Asymp. Line Int.","t":15,"v":-99.3},{"f":"Hr","m":"Asymp. Line Int.","t":16,"v":-99.3},{"f":"Hr","m":"Asymp. Line Int.","t":17.2,"v":-99.1},{"f":"Hr","m":"Asymp. Line Int.","t":18,"v":-99.1},{"f":"Hr","m":"Asymp. Line Int.","t":19,"v":-99.1},{"f":"Hr","m":"Asymp. Line Int.","t":19.9,"v":-99.1},{"f":"Hr","m":"Asymp. Line Int.","t":21,"v":-99.0},{"f":"Hr","m":"Asymp. Line Int.","t":21.9,"v":-98.9},{"f":"Hr","m":"Asymp. Line Int.","t":22.9,"v":-98.8},{"f":"Hr","m":"Asymp. Line Int.","t":23.9,"v":-98.7},{"f":"Hr","m":"Asymp. Line Int.","t":25,"v":-98.5},{"f":"Hr","m":"Asymp. Line Int.","t":26,"v":-98.3},{"f":"Hr","m":"Asymp. Line Int.","t":27,"v":-98.1},{"f":"Hr","m":"Asymp. Line Int.","t":28,"v":-97.9},{"f":"Hr","m":"Asymp. Line Int.","t":29,"v":-97.7},{"f":"Hr","m":"Asymp. Line Int.","t":30,"v":-97.6},{"f":"Hr","m":"Asymp. Line Int.","t":31,"v":-97.5},{"f":"Hr","m":"Asymp. Line Int.","t":31.9,"v":-97.3},{"f":"Hr","m":"Asymp. Line Int.","t":32.9,"v":-97.1},{"f":"Hr","m":"Asymp. Line Int.","t":34,"v":-96.9},{"f":"Hr","m":"Asymp. Line Int.","t":35.4,"v":-96.7},{"f":"Hr","m":"Asymp. Line Int.","t":36.8,"v":-96.5},{"f":"Hr","m":"Asymp. Line Int.","t":38.8,"v":-96.3},{"f":"Hr","m":"Asymp. Line Int.","t":40.4,"v":-96.1},{"f":"Hr","m":"Asymp. Line Int.","t":42,"v":-96.0},{"f":"Hr","m":"Asymp. Line Int.","t":43.5,"v":-95.8},{"f":"Hr","m":"Asymp. Line Int.","t":45,"v":-95.7},{"f":"Hr","m":"Asymp. Line Int.","t":46.4,"v":-95.5},{"f":"Hr","m":"Asymp. Line Int.","t":47.8,"v":-95.4},{"f":"Hr","m":"Asymp. Line Int.","t":49,"v":-95.1},{"f":"Hr","m":"Asymp. Line Int.","t":49.8,"v":-95.0},{"f":"Hr","m":"Asymp. Line Int.","t":51,"v":-94.7},{"f":"Hr","m":"Asymp. Line Int.","t":52,"v":-94.4},{"f":"Hr","m":"Asymp. Line Int.","t":52.9,"v":-94.2},{"f":"Hr","m":"Asymp. Line Int.","t":54,"v":-93.9},{"f":"Hr","m":"Asymp. Line Int.","t":55,"v":-93.5},{"f":"Hr","m":"Asymp. Line Int.","t":56,"v":-93.1},{"f":"Hr","m":"Asymp. Line Int.","t":56.8,"v":-93.0},{"f":"Hr","m":"Asymp. Line Int.","t":57.6,"v":-93.2},{"f":"Hr","m":"Asymp. Line Int.","t":58.8,"v":-93.5},{"f":"Hr","m":"Asymp. Line Int.","t":60,"v":-93.7},{"f":"Hr","m":"Asymp. Line Int.","t":61.7,"v":-94.1},{"f":"Hr","m":"Asymp. Line Int.","t":63,"v":-94.4},{"f":"Hr","m":"Asymp. Line Int.","t":64,"v":-94.8},{"f":"Hr","m":"Asymp. Line Int.","t":64.7,"v":-95.2},{"f":"Hr","m":"Asymp. Line Int.","t":65.7,"v":-95.6},{"f":"Hr","m":"Asymp. Line Int.","t":66.7,"v":-96.0},{"f":"Hr","m":"Asymp. Line Int.","t":67.8,"v":-96.5},{"f":"Hr","m":"Asymp. Line Int.","t":69,"v":-97.1},{"f":"Hr","m":"Asymp. Line Int.","t":69.8,"v":-97.7},{"f":"Hr","m":"Asymp. Line Int.","t":70.6,"v":-98.3},{"f":"Hr","m":"Asymp. Line Int.","t":71.7,"v":-99.1},{"f":"Hr","m":"Asymp. Line Int.","t":72.8,"v":-99.9},{"f":"Hr","m":"Asymp. Line Int.","t":73.7,"v":-100.6},{"f":"Hr","m":"Asymp. Line Int.","t":74.7,"v":-101.4},{"f":"Hr","m":"Asymp. Line Int.","t":75.7,"v":-102.3},{"f":"Hr","m":"Asymp. Line Int.","t":76.7,"v":-103.4},{"f":"Hr","m":"Asymp. Line Int.","t":77.6,"v":-104.7},{"f":"Hr","m":"Asymp. Line Int.","t":78.8,"v":-106.0},{"f":"Hr","m":"Asymp. Line Int.","t":79.9,"v":-107.0},{"f":"Hr","m":"Asymp. Line Int.","t":80.8,"v":-108.3},{"f":"Hr","m":"Asymp. Line Int.","t":81.7,"v":-109.9},{"f":"Hr","m":"Asymp. Line Int.","t":82.8,"v":-111.5},{"f":"Hr","m":"Asymp. Line Int.","t":83.7,"v":-113.3},{"f":"Hr","m":"Asymp. Line Int.","t":84.6,"v":-115.4},{"f":"Hr","m":"Asymp. Line Int.","t":85.7,"v":-117.7},{"f":"Hr","m":"Asymp. Line Int.","t":86.8,"v":-120.2},{"f":"Hr","m":"Asymp. Line Int.","t":87.6,"v":-123.1},{"f":"Hr","m":"Asymp. Line Int.","t":88.6,"v":-126.0}
],
"labels": [
{"t":68.4,"v":-89.9,"main":"H","sub":"θ"},
{"t":6.0,"v":-93.4,"main":"H","sub":"ϕ"},
{"t":7.8,"v":-102.1,"main":"H","sub":"r"}
]
},
"resolve": {"axis": {"x": "independent", "y": "independent"}},
"layer": [
{
 "data": {"name": "curves"},
 "transform": [{"filter": "datum.m === 'Exact Line Int.'"}],
 "mark": {"type": "line", "strokeWidth": 1.3, "clip": true},
 "encoding": {
  "x": {"field": "t", "type": "quantitative", "scale": {"domain": [0, 90], "nice": false, "zero": false},
        "axis": {"orient": "bottom", "values": [0,10,20,30,40,50,60,70,80,90], "title": "θ (deg.)", "labelFont": "Liberation Serif", "labelFontSize": 20, "titleFont": "Liberation Serif", "titleFontSize": 21, "titleFontWeight": "normal", "labelPadding": 18, "titlePadding": 8, "labelFlush": false}},
  "y": {"field": "v", "type": "quantitative", "scale": {"domain": [-125, -85], "nice": false, "zero": false},
        "axis": {"orient": "left", "values": [-125,-120,-115,-110,-105,-100,-95,-90,-85], "title": "dBV/m", "labelFont": "Liberation Serif", "labelFontSize": 20, "titleFont": "Liberation Serif", "titleFontSize": 20, "titleFontWeight": "normal", "labelExpr": "'' + datum.value", "labelPadding": 21, "titlePadding": 26, "labelFlush": false}},
  "detail": {"field": "f"},
  "color": {"field": "m", "type": "nominal",
    "scale": {"domain": ["Exact Line Int.", "Asymp. Line Int.", "PO Surf. Int."], "range": ["black", "black", "black"]},
    "legend": {"title": null, "orient": "bottom-left", "offset": 13, "padding": 4, "strokeColor": "black", "fillColor": "white",
      "symbolSize": 576, "symbolOffset": 16, "labelOffset": 20, "rowPadding": 6, "labelLimit": 400,
      "labelFont": "Liberation Serif", "labelFontSize": 21,
      "labelExpr": "datum.label + '\u2800'",
      "encode": {"symbols": {"update": {
        "shape": {"signal": "datum.value === 'PO Surf. Int.' ? 'M0,-0.42L0.8,0.42L-0.8,0.42Z' : (datum.value === 'Asymp. Line Int.' ? 'M-1.6,0L1.6,0M0.2,0A0.2,0.2,0,1,1,-0.2,0A0.2,0.2,0,1,1,0.2,0' : 'M-1.6,0L1.6,0')"},
        "fill": {"signal": "datum.value === 'Asymp. Line Int.' ? 'black' : 'white'"},
        "fillOpacity": {"signal": "datum.value === 'Asymp. Line Int.' ? 1 : 0"},
        "stroke": {"value": "black"},
        "strokeWidth": {"value": 1.2},
        "opacity": {"value": 1}
      }}}
    }}
 }
},
{
 "data": {"name": "curves"},
 "transform": [{"filter": "datum.m === 'Asymp. Line Int.'"}],
 "mark": {"type": "line", "strokeWidth": 1, "clip": true},
 "encoding": {
  "x": {"field": "t", "type": "quantitative", "axis": {"orient": "top", "values": [0,10,20,30,40,50,60,70,80,90], "labels": false, "title": null, "domain": false}},
  "y": {"field": "v", "type": "quantitative", "axis": {"orient": "right", "values": [-125,-120,-115,-110,-105,-100,-95,-90,-85], "labels": false, "title": null, "domain": false}},
  "detail": {"field": "f"},
  "color": {"field": "m", "type": "nominal"}
 }
},
{
 "data": {"name": "curves"},
 "transform": [{"filter": "datum.m === 'Asymp. Line Int.' && datum.v >= -125"}],
 "mark": {"type": "point", "filled": true, "size": 36, "opacity": 1, "clip": true},
 "encoding": {
  "x": {"field": "t", "type": "quantitative", "axis": null},
  "y": {"field": "v", "type": "quantitative", "axis": null},
  "color": {"field": "m", "type": "nominal"}
 }
},
{
 "data": {"name": "curves"},
 "transform": [{"filter": "datum.m === 'PO Surf. Int.'"}],
 "mark": {"type": "point", "filled": false, "shape": "M0,-0.7L1,0.7L-1,0.7Z", "size": 324, "strokeWidth": 1.1, "opacity": 1, "clip": true},
 "encoding": {
  "x": {"field": "t", "type": "quantitative", "axis": null},
  "y": {"field": "v", "type": "quantitative", "axis": null},
  "color": {"field": "m", "type": "nominal"}
 }
},
{
 "data": {"name": "labels"},
 "mark": {"type": "text", "font": "Liberation Serif", "fontSize": 21, "color": "black", "align": "center", "baseline": "middle"},
 "encoding": {
  "x": {"field": "t", "type": "quantitative", "axis": null},
  "y": {"field": "v", "type": "quantitative", "axis": null},
  "text": {"field": "main"}
 }
},
{
 "data": {"name": "labels"},
 "mark": {"type": "text", "font": "Liberation Serif", "fontSize": 16, "color": "black", "align": "center", "baseline": "middle", "dx": 12, "dy": 14},
 "encoding": {
  "x": {"field": "t", "type": "quantitative", "axis": null},
  "y": {"field": "v", "type": "quantitative", "axis": null},
  "text": {"field": "sub"}
 }
}
]
}
